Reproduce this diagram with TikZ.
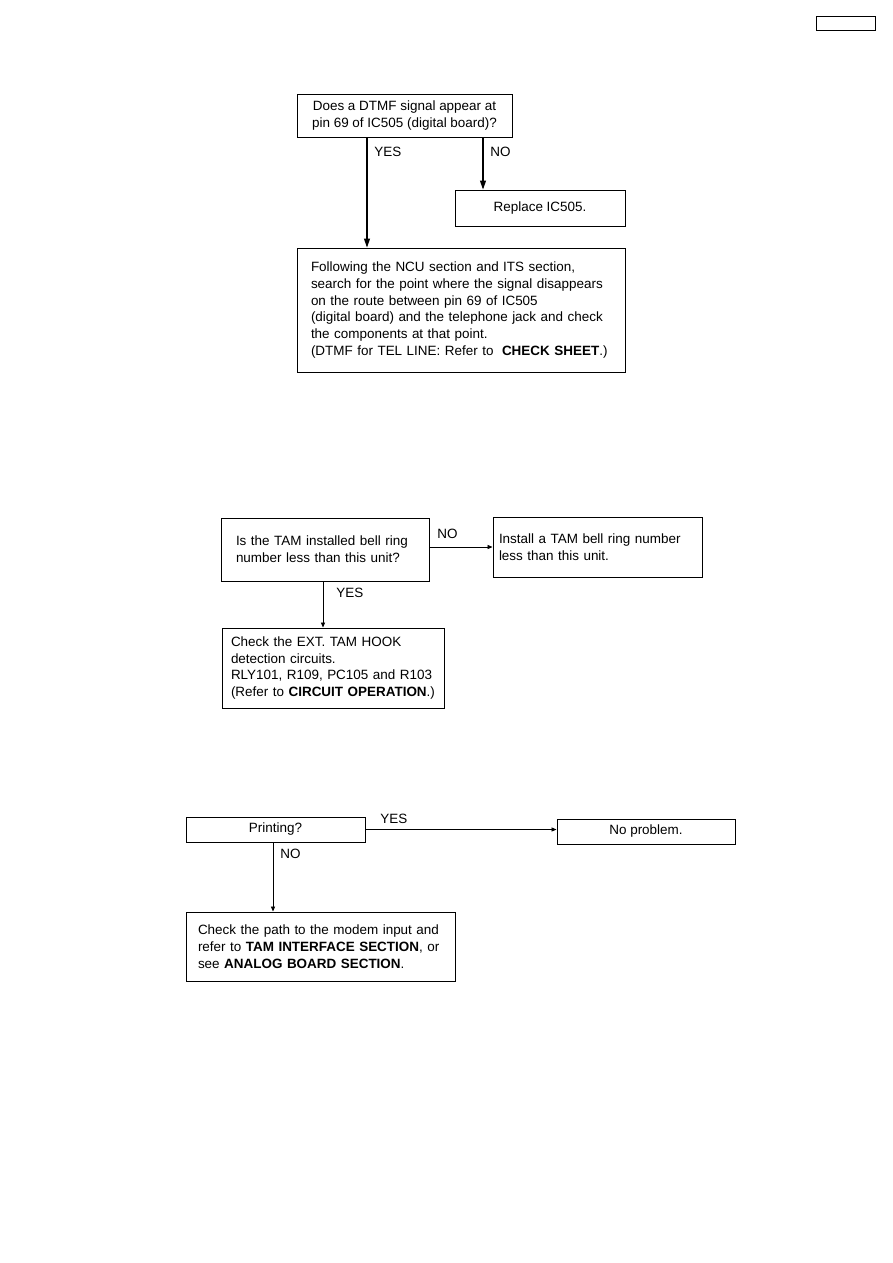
\documentclass[tikz,border=0pt]{standalone}
\usepackage{fontspec}
\setmainfont{Liberation Sans}
\usetikzlibrary{arrows.meta}
\newdimen\pix \pix=0.0235cm
\tikzset{
    flowbox/.style={draw, line width=0.65pt, inner ysep=0pt, font=\fontsize{9}{11.3}\selectfont},
    textbox/.style={flowbox, align=left},
    flowlabel/.style={anchor=west, inner sep=0pt, font=\fontsize{9}{11.3}\selectfont},
    bigarrow/.style={line width=0.7pt, -{Triangle[length=6pt,width=4pt]}},
    smallarrow/.style={line width=0.5pt, -{Triangle[length=3.3pt,width=2.7pt]}}
}
\begin{document}
\begin{tikzpicture}[x=0.0235cm, y=-0.0235cm]
    \useasboundingbox[fill=white] (0,0) rectangle (893,1263);

    % page mark
    \node[flowbox, minimum width=59\pix, minimum height=14\pix] (pagebox) at (845.5,23) {};

    % DTMF check
    \node[flowbox, align=center, inner xsep=0pt, minimum width=215\pix, minimum height=43\pix] (dtmf) at (404.5,115.5)
        {Does a DTMF signal appear at\\pin 69 of IC505 (digital board)?};
    \node[flowbox, inner xsep=0pt, minimum width=170\pix, minimum height=36\pix] (replace) at (540,208) {Replace IC505.};
    \node[textbox, inner xsep=14\pix, text width=300\pix, minimum height=124\pix] (trace) at (461,310)
        {Following the NCU section and ITS section,\\
         search for the point where the signal disappears\\
         on the route between pin 69 of IC505\\
         (digital board) and the telephone jack and check\\
         the components at that point.\\
         (DTMF for TEL LINE: Refer to\hspace{0.3em} \textbf{CHECK SHEET}.)};
    \coordinate (dtmfyes) at (367,0);
    \coordinate (dtmfno) at (483,0);
    \draw[bigarrow] (dtmf.south -| dtmfyes) -- (trace.north -| dtmfyes);
    \draw[bigarrow] (dtmf.south -| dtmfno) -- (replace.north -| dtmfno);
    \node[flowlabel] (dtmfyeslabel) at (374,152) {YES};
    \node[flowlabel] (dtmfnolabel) at (490,152) {NO};

    % TAM bell ring check
    \node[textbox, inner xsep=15\pix, text width=178\pix, minimum height=63\pix] (tamring) at (325,549.5)
        {Is the TAM installed bell ring\\number less than this unit?};
    \node[textbox, inner xsep=6\pix, text width=197\pix, minimum height=60\pix] (install) at (597.5,547)
        {Install a TAM bell ring number\\less than this unit.\\[3\pix]};
    \node[textbox, inner xsep=9\pix, text width=204\pix, minimum height=80\pix] (hook) at (333,668)
        {Check the EXT. TAM HOOK\\
         detection circuits.\\
         RLY101, R109, PC105 and R103\\
         (Refer to \textbf{CIRCUIT OPERATION}.)};
    \coordinate (tamyes) at (323,0);
    \draw[smallarrow] (tamring.east |- install.west) -- (install.west);
    \draw[smallarrow] (tamring.south -| tamyes) -- (hook.north -| tamyes);
    \node[flowlabel] (tamnolabel) at (437,534) {NO};
    \node[flowlabel] (tamyeslabel) at (336,593) {YES};

    % printing check
    \node[flowbox, inner xsep=0pt, minimum width=179\pix, minimum height=25\pix] (printing) at (275.5,829.5) {Printing?};
    \node[flowbox, inner xsep=0pt, minimum width=178\pix, minimum height=25\pix] (noproblem) at (646,831.5) {No problem.};
    \node[textbox, inner xsep=12\pix, text width=245\pix, minimum height=69\pix] (modem) at (320.5,946.5)
        {Check the path to the modem input and\\
         refer to \textbf{TAM INTERFACE SECTION}, or\\
         see \textbf{ANALOG BOARD SECTION}.};
    \coordinate (printno) at (273,0);
    \draw[smallarrow] (printing.east) -- (printing.east -| noproblem.west);
    \draw[smallarrow] (printing.south -| printno) -- (modem.north -| printno);
    \node[flowlabel] (printyeslabel) at (380,819) {YES};
    \node[flowlabel] (printnolabel) at (280,854) {NO};
\end{tikzpicture}
\end{document}
